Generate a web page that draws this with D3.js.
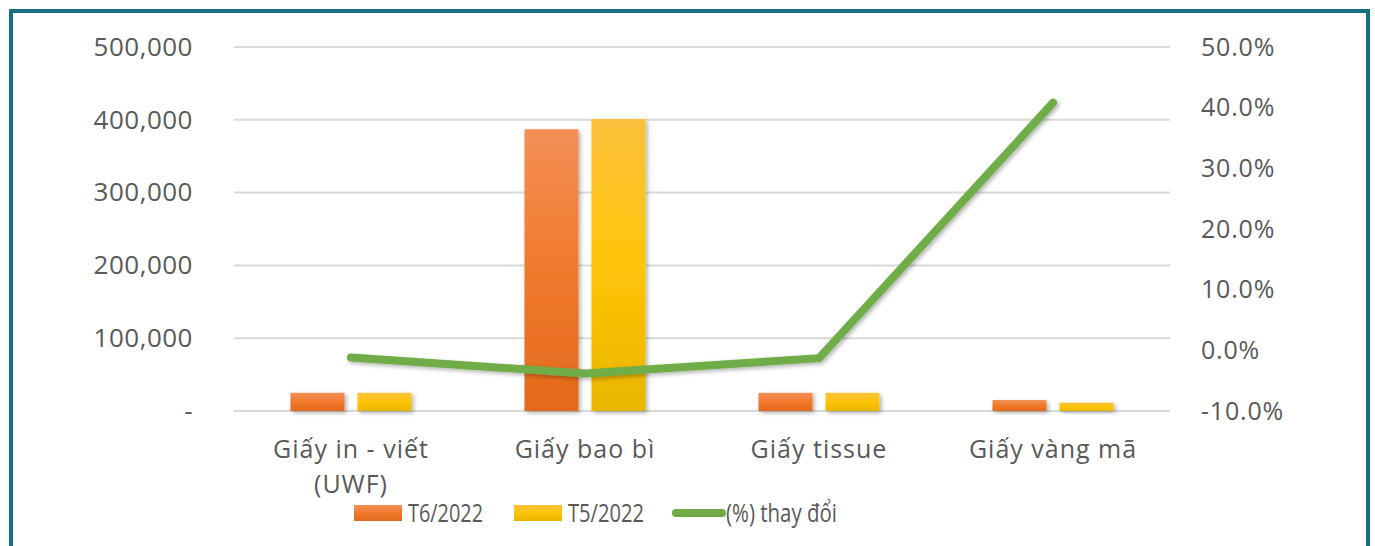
<!DOCTYPE html>
<html lang="vi">
<head>
<meta charset="UTF-8">
<title>Giấy T6/2022 vs T5/2022</title>
<style>
    body { margin: 0; background: #fff; }
    .tick text { font-family: "Open Sans", sans-serif; fill: #595959; }
    .cat { font-family: "Open Sans", sans-serif; font-size: 25px; letter-spacing: 1px; fill: #595959; }
    .legend text { font-family: "Open Sans", sans-serif; font-size: 26px; fill: #595959; }
</style>
</head>
<body>
<script src="https://d3js.org/d3.v7.min.js"></script>
<script>
    const categories = ["Giấy in - viết (UWF)", "Giấy bao bì", "Giấy tissue", "Giấy vàng mã"];
    const catLines = [["Giấy in - viết", "(UWF)"], ["Giấy bao bì"], ["Giấy tissue"], ["Giấy vàng mã"]];
    const t6 = [25000, 387000, 25000, 15000];
    const t5 = [25000, 401000, 25000, 11500];
    const pctChange = [-1.2, -3.8, -1.3, 40.8];
    const leftTicks = [0, 100000, 200000, 300000, 400000, 500000];
    const rightTicks = [-10, 0, 10, 20, 30, 40, 50];

    const W = 1375, H = 546;
    const margin = { top: 47, left: 234, right: 205, bottom: 135 };
    const innerW = W - margin.left - margin.right,
          innerH = H - margin.top - margin.bottom;

    const svg = d3.select("body").append("svg")
        .attr("width", W).attr("height", H);

    const defs = svg.append("defs");
    function grad(id, stops) {
        const g = defs.append("linearGradient").attr("id", id)
            .attr("x1", 0).attr("y1", 0).attr("x2", 0).attr("y2", 1);
        stops.forEach(s => g.append("stop").attr("offset", s[0]).attr("stop-color", s[1]));
    }
    grad("gT6", [[0, "#f28f55"], [0.5, "#f17a2c"], [1, "#e3691b"]]);
    grad("gT5", [[0, "#fcc13c"], [0.5, "#ffc508"], [1, "#e9b500"]]);

    const shadow = defs.append("filter").attr("id", "shadow")
        .attr("x", "-20%").attr("y", "-20%").attr("width", "150%").attr("height", "150%");
    shadow.append("feDropShadow").attr("dx", 2).attr("dy", 2).attr("stdDeviation", 2)
        .attr("flood-color", "#000").attr("flood-opacity", 0.3);

    // frame
    svg.append("rect")
        .attr("x", 11).attr("y", 11).attr("width", 1357).attr("height", 560)
        .attr("fill", "none").attr("stroke", "#14707f").attr("stroke-width", 4);

    const g = svg.append("g").attr("transform", `translate(${margin.left},${margin.top})`);

    const x = d3.scaleBand().domain(categories).range([0, innerW]);
    const x1 = d3.scaleBand().domain(["t6", "t5"]).range([0, x.bandwidth()])
        .paddingInner(0.194).paddingOuter(0.843);
    const yL = d3.scaleLinear().domain([0, 500000]).range([innerH, 0]);
    const yR = d3.scaleLinear().domain([-10, 50]).range([innerH, 0]);

    // gridlines
    g.append("g").selectAll("line").data(leftTicks).join("line")
        .attr("x1", 0).attr("x2", innerW)
        .attr("y1", d => yL(d)).attr("y2", d => yL(d))
        .attr("stroke", "#d9d9d9").attr("stroke-width", 2);

    // left axis
    const axL = g.append("g").attr("transform", "translate(-38,0)")
        .call(d3.axisLeft(yL).tickValues(leftTicks).tickSize(0)
            .tickFormat(d => d === 0 ? "-" : d3.format(",")(d)));
    axL.select(".domain").remove();
    axL.selectAll("text").attr("font-size", 26).attr("letter-spacing", 0.5).attr("dy", "0.32em");

    // right axis
    const axR = g.append("g").attr("transform", `translate(${innerW + 28},0)`)
        .call(d3.axisRight(yR).tickValues(rightTicks).tickSize(0)
            .tickFormat(d => d3.format(".1f")(d).replace("−", "-") + "%"));
    axR.select(".domain").remove();
    axR.selectAll("text").attr("font-size", 25).attr("letter-spacing", 0.8).attr("dy", "0.32em");

    // bars
    const series = [{ key: "t6", vals: t6, fill: "url(#gT6)" }, { key: "t5", vals: t5, fill: "url(#gT5)" }];
    series.forEach(s => {
        g.append("g").selectAll("rect").data(categories).join("rect")
            .attr("x", (c) => x(c) + x1(s.key))
            .attr("width", x1.bandwidth())
            .attr("y", (c, i) => yL(s.vals[i]))
            .attr("height", (c, i) => yL(0) - yL(s.vals[i]))
            .attr("fill", s.fill)
            .attr("filter", "url(#shadow)");
    });

    // line
    const line = d3.line()
        .x((d, i) => x(categories[i]) + x.bandwidth() / 2)
        .y(d => yR(d));
    g.append("path").datum(pctChange)
        .attr("d", line)
        .attr("fill", "none")
        .attr("stroke", "#6fac46")
        .attr("stroke-width", 8)
        .attr("stroke-linecap", "round")
        .attr("stroke-linejoin", "miter")
        .attr("filter", "url(#shadow)");

    // category labels
    const catG = g.append("g").attr("class", "cat");
    catLines.forEach((lines, i) => {
        const cx = x(categories[i]) + x.bandwidth() / 2;
        const t = catG.append("text")
            .attr("x", cx)
            .attr("y", innerH + 47)
            .attr("text-anchor", "middle");
        lines.forEach((ln, j) => {
            t.append("tspan").attr("x", cx)
                .attr("dy", j === 0 ? 0 : 35).text(ln);
        });
    });

    // legend
    const legend = svg.append("g").attr("class", "legend").attr("transform", "translate(354,513)");
    const items = [
        { label: "T6/2022", type: "rect", fill: "url(#gT6)", dx: 0, len: 75 },
        { label: "T5/2022", type: "rect", fill: "url(#gT5)", dx: 160, len: 76 },
        { label: "(%) thay đổi", type: "line", fill: "#6fac46", dx: 318, len: 111 }
    ];
    items.forEach(it => {
        const li = legend.append("g").attr("transform", `translate(${it.dx},0)`);
        if (it.type === "rect") {
            li.append("rect").attr("x", 0).attr("y", -8).attr("width", 48).attr("height", 16).attr("fill", it.fill);
        } else {
            li.append("line").attr("x1", 4).attr("x2", 50).attr("y1", 0).attr("y2", 0)
                .attr("stroke", it.fill).attr("stroke-width", 8).attr("stroke-linecap", "round");
        }
        li.append("text").attr("x", it.type === "rect" ? 54 : 54).attr("dy", "0.36em")
            .attr("textLength", it.len).attr("lengthAdjust", "spacingAndGlyphs")
            .text(it.label);
    });
</script>
</body>
</html>
